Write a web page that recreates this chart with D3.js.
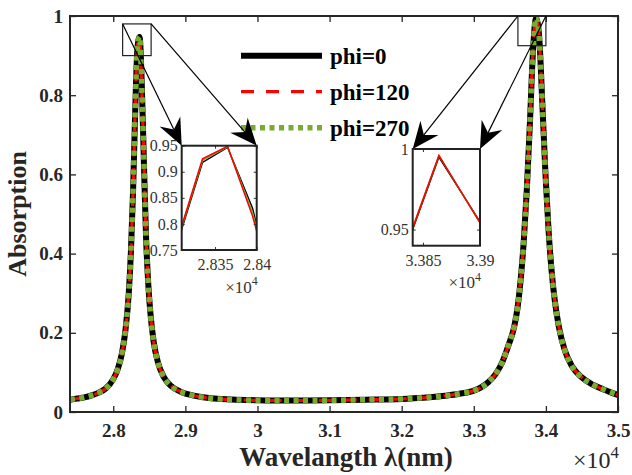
<!DOCTYPE html>
<html>
<head>
<meta charset="utf-8">
<script src="https://cdn.jsdelivr.net/npm/d3@7"></script>
<style>
  body { margin: 0; background: #fff; }
  svg text { font-family: "Liberation Serif", "Times New Roman", serif; }
</style>
</head>
<body>
<svg id="chart"></svg>
<script>
// wavelength samples (nm) and absorption for the three phi values
const wavelength = [27400, 27500, 27600, 27700, 27800, 27900, 28000, 28060, 28120, 28170,
  28215, 28245, 28275, 28305, 28335, 28365, 28395, 28425, 28455, 28485,
  28515, 28560, 28620, 28700, 28800, 28950, 29100, 29400, 29700, 30000,
  30500, 31000, 31500, 32000, 32300, 32600, 32800, 33000, 33100, 33200,
  33300, 33400, 33480, 33560, 33606, 33649, 33692, 33735, 33778, 33821,
  33864, 33907, 33950, 33993, 34036, 34079, 34122, 34180, 34260, 34360,
  34500, 34650, 34800, 35000];

const absPhi0 = [0.031, 0.034, 0.037, 0.042, 0.049, 0.060, 0.083, 0.107, 0.148, 0.208,
  0.300, 0.405, 0.560, 0.764, 0.918, 0.947, 0.830, 0.630, 0.440, 0.325,
  0.250, 0.178, 0.125, 0.089, 0.066, 0.050, 0.042, 0.034, 0.031, 0.0295,
  0.029, 0.0295, 0.031, 0.033, 0.036, 0.041, 0.046, 0.054, 0.062, 0.075,
  0.095, 0.128, 0.168, 0.215, 0.262, 0.332, 0.428, 0.560, 0.728, 0.911,
  0.995, 0.947, 0.782, 0.605, 0.462, 0.357, 0.283, 0.215, 0.157, 0.116,
  0.087, 0.069, 0.057, 0.043];

const absPhi120 = [0.031, 0.034, 0.037, 0.042, 0.049, 0.060, 0.083, 0.107, 0.148, 0.208,
  0.300, 0.405, 0.562, 0.770, 0.925, 0.949, 0.815, 0.640, 0.442, 0.325,
  0.250, 0.178, 0.125, 0.089, 0.066, 0.050, 0.042, 0.034, 0.031, 0.0295,
  0.029, 0.0295, 0.031, 0.033, 0.036, 0.041, 0.046, 0.054, 0.062, 0.075,
  0.095, 0.128, 0.168, 0.215, 0.262, 0.332, 0.428, 0.561, 0.729, 0.912,
  0.996, 0.946, 0.781, 0.605, 0.462, 0.357, 0.283, 0.215, 0.157, 0.116,
  0.087, 0.069, 0.057, 0.043];

const absPhi270 = [0.031, 0.034, 0.037, 0.042, 0.049, 0.060, 0.083, 0.107, 0.148, 0.208,
  0.300, 0.405, 0.561, 0.768, 0.922, 0.948, 0.822, 0.635, 0.441, 0.325,
  0.250, 0.178, 0.125, 0.089, 0.066, 0.050, 0.042, 0.034, 0.031, 0.0295,
  0.029, 0.0295, 0.031, 0.033, 0.036, 0.041, 0.046, 0.054, 0.062, 0.075,
  0.095, 0.128, 0.168, 0.215, 0.262, 0.332, 0.428, 0.561, 0.729, 0.912,
  0.996, 0.946, 0.781, 0.605, 0.462, 0.357, 0.283, 0.215, 0.157, 0.116,
  0.087, 0.069, 0.057, 0.043];

const seriesNames = ["phi=0", "phi=120", "phi=270"];
const xTicks = [28000, 29000, 30000, 31000, 32000, 33000, 34000, 35000];
const yTicks = [0, 0.2, 0.4, 0.6, 0.8, 1];

// ticks of the two zoomed insets
const inset1XTicks = [28350, 28400];
const inset1YTicks = [0.75, 0.8, 0.85, 0.9, 0.95];
const inset2XTicks = [33850, 33900];
const inset2YTicks = [0.95, 1];

const W = 632, H = 475;
const plot = { left: 70, right: 618, top: 16, bottom: 412 };
const ink = "#262626";
const serif = '"Liberation Serif", "Times New Roman", serif';

const svg = d3.select("#chart").attr("width", W).attr("height", H);

const x = d3.scaleLinear().domain([27400, 35000]).range([plot.left, plot.right]);
const y = d3.scaleLinear().domain([0, 1]).range([plot.bottom, plot.top]);

const series = [
  { name: seriesNames[0], values: absPhi0, color: "#000000", width: 6, dash: null },
  { name: seriesNames[1], values: absPhi120, color: "#ff0000", width: 3.2, dash: "13,12" },
  { name: seriesNames[2], values: absPhi270, color: "#77ac30", width: 5.5, dash: "5,4.5" }
];

svg.append("clipPath").attr("id", "mainClip")
  .append("rect")
  .attr("x", plot.left).attr("y", plot.top)
  .attr("width", plot.right - plot.left).attr("height", plot.bottom - plot.top);

const mainLine = d3.line()
  .x((d, i) => x(wavelength[i]))
  .y(d => y(d))
  .curve(d3.curveMonotoneX);

// main curves
const curves = svg.append("g").attr("clip-path", "url(#mainClip)");
series.forEach(s => {
  curves.append("path")
    .datum(s.values)
    .attr("d", mainLine)
    .attr("fill", "none")
    .attr("stroke", s.color)
    .attr("stroke-width", s.width)
    .attr("stroke-dasharray", s.dash);
});

// axes (ticks inward, mirrored on top/right)
function styleAxis(g) {
  g.attr("font-family", null).attr("font-size", null);
  g.select(".domain").remove();
  g.selectAll(".tick line").attr("stroke", ink).attr("stroke-width", 1.3);
  g.selectAll(".tick text").attr("fill", ink)
    .style("font-family", serif).style("font-size", "19px").style("font-weight", "bold");
}

svg.append("g")
  .attr("transform", `translate(0,${plot.bottom})`)
  .call(d3.axisBottom(x).tickValues(xTicks).tickSize(-6).tickPadding(11.5)
    .tickFormat(d => String(d / 1e4)))
  .call(styleAxis);

svg.append("g")
  .attr("transform", `translate(0,${plot.top})`)
  .call(d3.axisTop(x).tickValues(xTicks).tickSize(-6).tickFormat(""))
  .call(styleAxis);

svg.append("g")
  .attr("transform", `translate(${plot.left},0)`)
  .call(d3.axisLeft(y).tickValues(yTicks).tickSize(-6).tickPadding(7)
    .tickFormat(d => String(d)))
  .call(styleAxis);

svg.append("g")
  .attr("transform", `translate(${plot.right},0)`)
  .call(d3.axisRight(y).tickValues(yTicks).tickSize(-6).tickFormat(""))
  .call(styleAxis);

svg.append("rect")
  .attr("x", plot.left).attr("y", plot.top)
  .attr("width", plot.right - plot.left).attr("height", plot.bottom - plot.top)
  .attr("fill", "none").attr("stroke", ink).attr("stroke-width", 2);

// axis labels
svg.append("text")
  .attr("x", (plot.left + plot.right) / 2 + 2).attr("y", 466)
  .attr("text-anchor", "middle")
  .style("font-size", "27px").style("font-weight", "bold").attr("fill", ink)
  .text("Wavelangth λ(nm)");

svg.append("text")
  .attr("transform", `translate(26,${(plot.top + plot.bottom) / 2}) rotate(-90)`)
  .attr("text-anchor", "middle")
  .style("font-size", "26px").style("font-weight", "bold").attr("fill", ink)
  .text("Absorption");

function exponentLabel(g, xEnd, yBase, size, color) {
  const t = g.append("text")
    .attr("x", xEnd).attr("y", yBase)
    .attr("text-anchor", "end")
    .style("font-size", size + "px").attr("fill", color);
  t.append("tspan").text("×10");
  t.append("tspan").style("font-size", (size * 0.7) + "px").attr("dy", -size * 0.42).text("4");
}
exponentLabel(svg, 619, 468, 24, ink);

// legend
const legend = svg.append("g");
series.forEach((s, i) => {
  const ly = 55.7 + i * 36;
  legend.append("line")
    .attr("x1", 241).attr("x2", 322).attr("y1", ly).attr("y2", ly)
    .attr("stroke", s.color).attr("stroke-width", s.width)
    .attr("stroke-dasharray", s.dash);
  legend.append("text")
    .attr("x", 330).attr("y", ly + 8)
    .style("font-size", "23px").style("font-weight", "bold").attr("fill", "#000")
    .text(s.name);
});

// arrow with a notched head
function arrow(x1, y1, x2, y2) {
  const len = Math.hypot(x2 - x1, y2 - y1);
  const ux = (x2 - x1) / len, uy = (y2 - y1) / len;
  const px = -uy, py = ux;
  const hl = 27, hw = 11.5, notch = 18;
  svg.append("line")
    .attr("x1", x1).attr("y1", y1)
    .attr("x2", x2 - ux * notch).attr("y2", y2 - uy * notch)
    .attr("stroke", "#000").attr("stroke-width", 1.2);
  const pts = [
    [x2, y2],
    [x2 - ux * hl + px * hw, y2 - uy * hl + py * hw],
    [x2 - ux * notch, y2 - uy * notch],
    [x2 - ux * hl - px * hw, y2 - uy * hl - py * hw]
  ];
  svg.append("path").attr("d", d3.line()(pts) + "Z").attr("fill", "#000");
}

const insets = [
  { box: [181.7, 145.7, 256.7, 250], xDomain: [28310, 28400], yDomain: [0.75, 0.95],
    xTicks: inset1XTicks, yTicks: inset1YTicks, zoomX: [28130, 28525], zoomY: [0.90, 0.98] },
  { box: [412.7, 149, 480, 245.7], xDomain: [33841, 33900], yDomain: [0.94, 1],
    xTicks: inset2XTicks, yTicks: inset2YTicks, zoomX: [33612, 34000], zoomY: [0.925, 1.0] }
];

insets.forEach((ins, k) => {
  const [bx0, by0, bx1, by1] = ins.box;
  // zoom rectangle on the main plot
  svg.append("rect")
    .attr("x", x(ins.zoomX[0])).attr("y", y(ins.zoomY[1]))
    .attr("width", x(ins.zoomX[1]) - x(ins.zoomX[0]))
    .attr("height", y(ins.zoomY[0]) - y(ins.zoomY[1]))
    .attr("fill", "none").attr("stroke", "#222").attr("stroke-width", 1.2);

  arrow(x(ins.zoomX[0]), y(ins.zoomY[1]), bx0, by0);
  arrow(x(ins.zoomX[1]), y(ins.zoomY[1]), bx1, by0);

  const ix = d3.scaleLinear().domain(ins.xDomain).range([bx0, bx1]);
  const iy = d3.scaleLinear().domain(ins.yDomain).range([by1, by0]);

  const g = svg.append("g");
  g.append("rect")
    .attr("x", bx0).attr("y", by0).attr("width", bx1 - bx0).attr("height", by1 - by0)
    .attr("fill", "#fff");

  g.append("clipPath").attr("id", "insetClip" + k)
    .append("rect")
    .attr("x", bx0).attr("y", by0).attr("width", bx1 - bx0).attr("height", by1 - by0);

  const insetLine = d3.line()
    .x((d, i) => ix(wavelength[i]))
    .y(d => iy(d));

  const lines = g.append("g").attr("clip-path", `url(#insetClip${k})`);
  [series[0], series[2], series[1]].forEach(s => {
    lines.append("path")
      .datum(s.values)
      .attr("d", insetLine)
      .attr("fill", "none")
      .attr("stroke", s.color)
      .attr("stroke-width", 1.5);
  });

  const inkI = "#333";
  function styleInset(a) {
    a.attr("font-family", null).attr("font-size", null);
    a.select(".domain").remove();
    a.selectAll(".tick line").attr("stroke", inkI).attr("stroke-width", 1);
    a.selectAll(".tick text").attr("fill", inkI)
      .style("font-family", serif).style("font-size", "16px");
  }
  g.append("g").attr("transform", `translate(0,${by1})`)
    .call(d3.axisBottom(ix).tickValues(ins.xTicks).tickSize(-3).tickPadding(9)
      .tickFormat(d => String(d / 1e4)))
    .call(styleInset);
  g.append("g").attr("transform", `translate(0,${by0})`)
    .call(d3.axisTop(ix).tickValues(ins.xTicks).tickSize(-3).tickFormat(""))
    .call(styleInset);
  g.append("g").attr("transform", `translate(${bx0},0)`)
    .call(d3.axisLeft(iy).tickValues(ins.yTicks).tickSize(-3).tickPadding(4)
      .tickFormat(d => String(d)))
    .call(styleInset);
  g.append("g").attr("transform", `translate(${bx1},0)`)
    .call(d3.axisRight(iy).tickValues(ins.yTicks).tickSize(-3).tickFormat(""))
    .call(styleInset);

  g.append("rect")
    .attr("x", bx0).attr("y", by0).attr("width", bx1 - bx0).attr("height", by1 - by0)
    .attr("fill", "none").attr("stroke", "#222").attr("stroke-width", 2);

  exponentLabel(g, bx1 + 1, by1 + 42.5, 17, inkI);
});
</script>
</body>
</html>
